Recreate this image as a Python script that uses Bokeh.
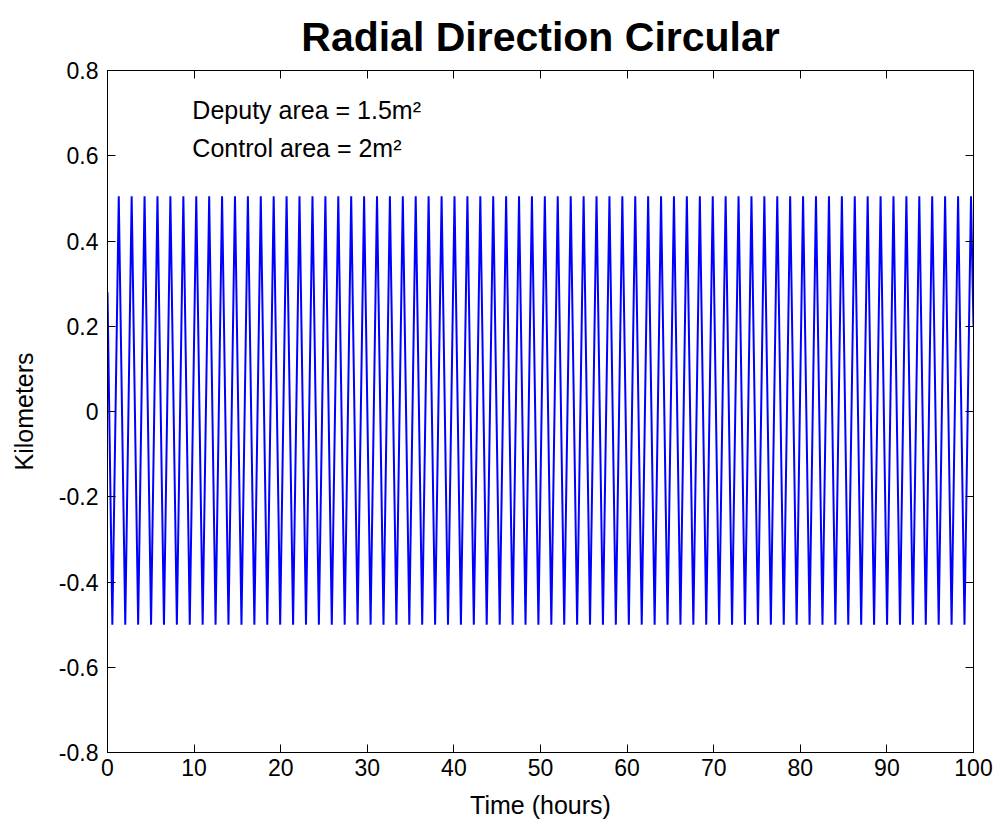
from bokeh.plotting import figure
from bokeh.models import LinearAxis, FixedTicker, Range1d, Label
from bokeh.embed import file_html
from bokeh.resources import INLINE

# Radial offset (km) of the deputy over 100 hours: times of each crest and trough
start_hours = 0.0
start_km = 0.28
end_hours = 100.0
end_km = 0.20

peak_hours = [
    1.30, 2.79, 4.28, 5.77, 7.26, 8.76, 10.25, 11.74, 13.23, 14.72,
    16.21, 17.70, 19.19, 20.68, 22.17, 23.67, 25.16, 26.65, 28.14, 29.63,
    31.12, 32.61, 34.10, 35.59, 37.08, 38.58, 40.07, 41.56, 43.05, 44.54,
    46.03, 47.52, 49.01, 50.50, 51.99, 53.49, 54.98, 56.47, 57.96, 59.45,
    60.94, 62.43, 63.92, 65.41, 66.90, 68.40, 69.89, 71.38, 72.87, 74.36,
    75.85, 77.34, 78.83, 80.32, 81.81, 83.31, 84.80, 86.29, 87.78, 89.27,
    90.76, 92.25, 93.74, 95.23, 96.72, 98.22, 99.71,
]
trough_hours = [
    0.56, 2.05, 3.54, 5.03, 6.52, 8.01, 9.50, 10.99, 12.48, 13.97,
    15.47, 16.96, 18.45, 19.94, 21.43, 22.92, 24.41, 25.90, 27.39, 28.88,
    30.38, 31.87, 33.36, 34.85, 36.34, 37.83, 39.32, 40.81, 42.30, 43.79,
    45.29, 46.78, 48.27, 49.76, 51.25, 52.74, 54.23, 55.72, 57.21, 58.70,
    60.20, 61.69, 63.18, 64.67, 66.16, 67.65, 69.14, 70.63, 72.12, 73.61,
    75.11, 76.60, 78.09, 79.58, 81.07, 82.56, 84.05, 85.54, 87.03, 88.52,
    90.02, 91.51, 93.00, 94.49, 95.98, 97.47, 98.96,
]
peak_km = 0.505
trough_km = -0.50

x_ticks = [0, 10, 20, 30, 40, 50, 60, 70, 80, 90, 100]
y_ticks = [-0.8, -0.6, -0.4, -0.2, 0.0, 0.2, 0.4, 0.6, 0.8]
y_tick_labels = ["-0.8", "-0.6", "-0.4", "-0.2", "0", "0.2", "0.4", "0.6", "0.8"]

title_text = "Radial Direction Circular"
notes = ["Deputy area = 1.5m\u00b2", "Control area = 2m\u00b2"]
note_hours = 9.8
note_km = [0.708, 0.618]

# assemble the trace
t = [start_hours]
km = [start_km]
for tr, pk in zip(trough_hours, peak_hours):
    t += [tr, pk]
    km += [trough_km, peak_km]
t.append(end_hours)
km.append(end_km)

FONT = "Liberation Sans"

p = figure(
    width=1000, height=825,
    x_range=Range1d(0, 100), y_range=Range1d(-0.8, 0.8),
    output_backend="svg", toolbar_location=None,
    min_border_left=107, min_border_right=27,
    min_border_top=69, min_border_bottom=73,
    background_fill_color="white", border_fill_color="white",
)
p.grid.visible = False
p.outline_line_color = "black"
p.outline_line_width = 1

p.title.text = title_text
p.title.align = "center"
p.title.text_font = FONT
p.title.text_font_size = "41px"
p.title.text_font_style = "bold"
p.title.text_color = "black"
p.title.standoff = 22

p.line(t, km, line_color="#0000ff", line_width=2)


def style_axis(ax, show_labels=True):
    ax.axis_line_color = "black"
    ax.major_tick_line_color = "black"
    ax.minor_tick_line_color = None
    ax.major_tick_in = 8
    ax.major_tick_out = 0
    ax.major_label_text_font = FONT
    ax.major_label_text_color = "black"
    ax.axis_label_text_font = FONT
    ax.axis_label_text_font_style = "normal"
    ax.axis_label_text_color = "black"
    if show_labels:
        ax.major_label_text_font_size = "23px"
        ax.axis_label_text_font_size = "25px"
    else:
        ax.major_label_overrides = {v: "" for v in ax.ticker.ticks}
        ax.major_label_text_font_size = "1px"
        ax.major_label_standoff = 0


xa = p.xaxis[0]
xa.ticker = FixedTicker(ticks=x_ticks)
xa.axis_label = "Time (hours)"
style_axis(xa)
xa.major_label_standoff = 6
xa.axis_label_standoff = 12

ya = p.yaxis[0]
ya.ticker = FixedTicker(ticks=y_ticks)
ya.major_label_overrides = {v: s for v, s in zip(y_ticks, y_tick_labels)}
ya.axis_label = "Kilometers"
style_axis(ya)
ya.major_label_standoff = 9
ya.axis_label_standoff = 18

top = LinearAxis(ticker=FixedTicker(ticks=x_ticks))
style_axis(top, show_labels=False)
p.add_layout(top, "above")

right = LinearAxis(ticker=FixedTicker(ticks=y_ticks))
style_axis(right, show_labels=False)
p.add_layout(right, "right")

for text, yk in zip(notes, note_km):
    p.add_layout(Label(
        x=note_hours, y=yk, text=text,
        text_font=FONT, text_font_size="25px", text_color="black",
        text_baseline="alphabetic", text_align="left",
    ))

open("out.html", "w").write(file_html(p, INLINE))
